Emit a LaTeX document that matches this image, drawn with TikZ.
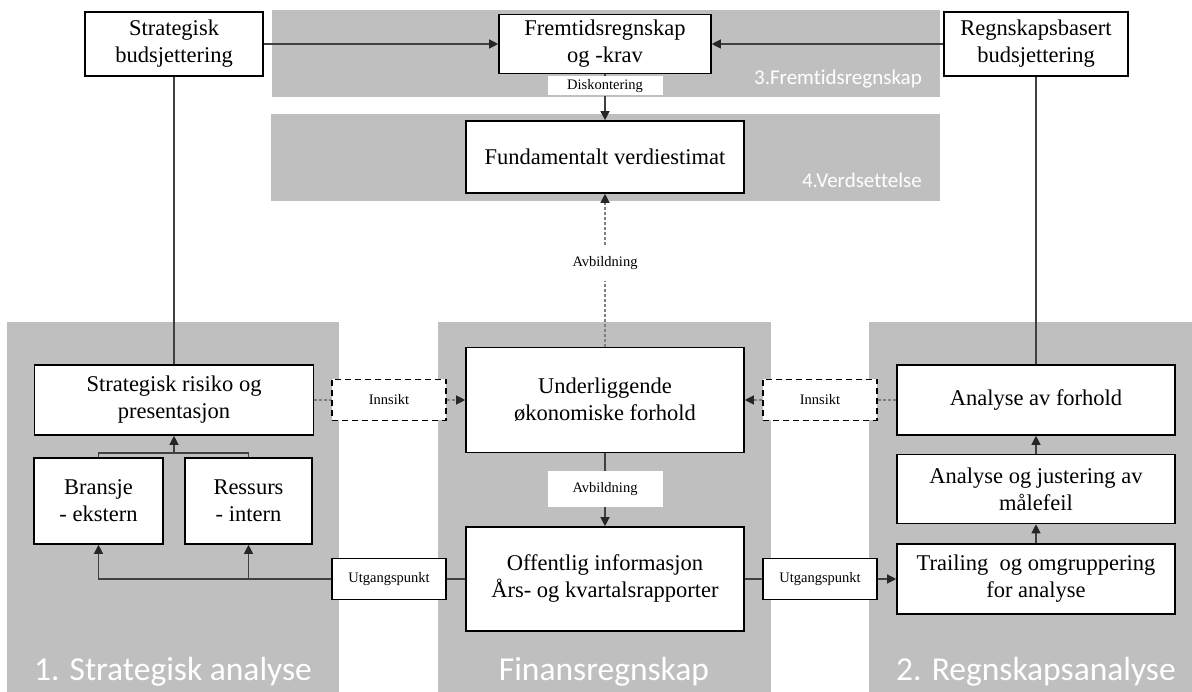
\documentclass[tikz,border=0pt]{standalone}
\usepackage{fontspec}
\setmainfont{Liberation Serif}
\newfontfamily\calibri[Ligatures=NoCommon]{Carlito}
\usetikzlibrary{arrows.meta}
\definecolor{panelgray}{HTML}{BFBFBF}
\definecolor{linegray}{HTML}{404040}
\definecolor{dashgray}{HTML}{7F7F7F}
\begin{document}
\begin{tikzpicture}[x=1pt,y=-1pt,
  box/.style 2 args={draw=black,line width=1.6pt,fill=white,align=center,inner sep=0pt,
    minimum width=#1pt,minimum height=#2pt,font=\fontsize{22.5}{27}\selectfont},
  dbox/.style={draw=black,line width=1.6pt,dash pattern=on 6pt off 4pt,fill=white,inner sep=0pt,
    minimum width=114pt,minimum height=41pt,font=\fontsize{14.5}{17}\selectfont},
  sbox/.style={draw=black,line width=1.4pt,fill=white,inner sep=0pt,
    minimum width=114pt,minimum height=41pt,font=\fontsize{14.5}{17}\selectfont},
  lab/.style 2 args={fill=white,inner sep=0pt,minimum width=#1pt,minimum height=#2pt,
    font=\fontsize{14.5}{17}\selectfont},
  panel/.style={fill=panelgray},
  ptitle/.style={text=white,inner sep=0pt,font=\calibri\fontsize{33.5}{40}\selectfont},
  stitle/.style={text=white,inner sep=0pt,anchor=base east,font=\calibri\fontsize{21}{25}\selectfont},
  conn/.style={draw=linegray,line width=1.2pt,>={Triangle[length=9pt,width=9pt,color=black!85]}},
  dconn/.style={draw=dashgray,line width=1.2pt,dash pattern=on 3pt off 2pt,
    >={Triangle[length=9pt,width=9pt,color=black!85]}}
]
\useasboundingbox[fill=white] (0,0) rectangle (1192,692);
\foreach \xa/\ya/\xb/\yb in {272/10/940/97, 271/114/940/201, 7/322/339/692,
  438/322/771/692, 869/322/1192/692} {
  \fill[panel] (\xa,\ya) rectangle (\xb,\yb);
}
\node[stitle] (t3) at (922,85) {3.Fremtidsregnskap};
\node[stitle] (t4) at (922,188) {4.Verdsettelse};
\node[ptitle,anchor=base] (t1) at (173,680) {1. Strategisk analyse};
\node[ptitle,anchor=base] (tf) at (604,680) {Finansregnskap};
\node[ptitle,anchor=base] (t2) at (1036,680) {2. Regnskapsanalyse};

\node[box={178}{64}] (sbud) at (174,44) {Strategisk\\budsjettering};
\node[box={212}{59}] (fremt) at (605,44) {Fremtidsregnskap\\og -krav};
\node[box={184}{64}] (rbud) at (1036,44) {Regnskapsbasert\\budsjettering};
\node[box={278}{72}] (fund) at (605,157) {Fundamentalt verdiestimat};
\node[lab={115}{19}] (disk) at (605,86) {Diskontering};
\node[inner sep=0pt,minimum height=35pt,font=\fontsize{14.5}{17}\selectfont] (avbA) at (605,263) {Avbildning};

\node[box={279}{70}] (srisk) at (174,400) {Strategisk risiko og\\presentasjon};
\node[box={129}{86}] (bransje) at (98.5,501) {Bransje\\- ekstern};
\node[box={127}{86}] (ressurs) at (248.5,501) {Ressurs\\- intern};
\coordinate (join) at (174,453);

\node[box={278}{105}] (under) at (605,400) {Underliggende\\økonomiske forhold};
\node[lab={115}{36}] (avbB) at (605,489) {Avbildning};
\node[box={278}{104}] (offinfo) at (605,579) {Offentlig informasjon\\Års- og kvartalsrapporter};

\node[box={278}{70}] (aforhold) at (1036,400) {Analyse av forhold};
\node[box={278}{69}] (ajust) at (1036,489) {Analyse og justering av\\målefeil};
\node[box={278}{70}] (trail) at (1036,579) {Trailing~ og omgruppering\\for analyse};

\node[dbox] (innL) at (389,400) {Innsikt};
\node[dbox] (innR) at (820,400) {Innsikt};
\node[sbox] (utgL) at (389,579) {Utgangspunkt};
\node[sbox] (utgR) at (820,579) {Utgangspunkt};

\draw[conn,->] (sbud.east) -- (fremt.west);
\draw[conn,->] (rbud.west) -- (fremt.east);
\draw[conn] (fremt.south) -- (disk.north);
\draw[conn,->] (disk.south) -- (fund.north);
\draw[conn] (sbud.south) -- (srisk.north);
\draw[conn] (rbud.south) -- (aforhold.north);
\draw[dconn] (under.north) -- (avbA.south);
\draw[dconn,->] (avbA.north) -- (fund.south);

\draw[dconn] (srisk.east) -- (innL.west);
\draw[dconn,->] (innL.east) -- (under.west);
\draw[dconn] (aforhold.west) -- (innR.east);
\draw[dconn,->] (innR.west) -- (under.east);

\draw[conn] (under.south) -- (avbB.north);
\draw[conn,->] (avbB.south) -- (offinfo.north);

\draw[conn] (bransje.north) |- (join) -| (ressurs.north);
\draw[conn,->] (join) -- (srisk.south);
\draw[conn] (offinfo.west) -- (utgL.east);
\draw[conn,->] (utgL.west) -| (bransje.south);
\draw[conn,->] (utgL.west -| ressurs.south) -- (ressurs.south);

\draw[conn] (offinfo.east) -- (utgR.west);
\draw[conn,->] (utgR.east) -- (trail.west);
\draw[conn,->] (trail.north) -- (ajust.south);
\draw[conn,->] (ajust.north) -- (aforhold.south);
\end{tikzpicture}
\end{document}
